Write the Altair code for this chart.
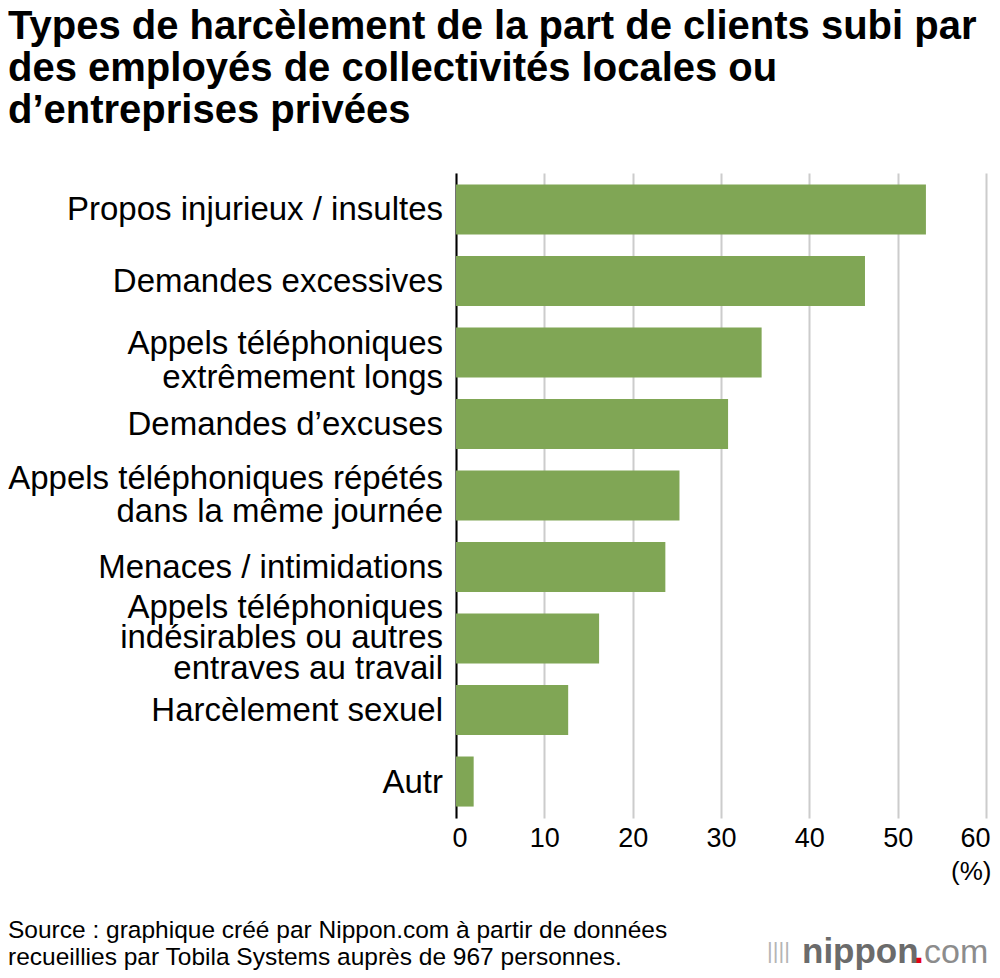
import altair as alt
import pandas as pd

# ---- data ----
categories = [
    "Propos injurieux / insultes",
    "Demandes excessives",
    "Appels téléphoniques|extrêmement longs",
    "Demandes d’excuses",
    "Appels téléphoniques répétés|dans la même journée",
    "Menaces / intimidations",
    "Appels téléphoniques|indésirables ou autres|entraves au travail",
    "Harcèlement sexuel",
    "Autr",
]
values = [53.2, 46.3, 34.6, 30.8, 25.3, 23.7, 16.2, 12.7, 2.0]
x_ticks = [0, 10, 20, 30, 40, 50, 60]

title_lines = [
    "Types de harcèlement de la part de clients subi par",
    "des employés de collectivités locales ou",
    "d’entreprises privées",
]
source_lines = [
    "Source : graphique créé par Nippon.com à partir de données",
    "recueillies par Tobila Systems auprès de 967 personnes.",
]

df = pd.DataFrame({"cat": categories, "val": values})

FONT = "Liberation Sans"
W, H = 530, 645

y_enc = alt.Y(
    "cat:N",
    sort=categories,
    scale=alt.Scale(paddingInner=0.3, paddingOuter=0.16),
    axis=alt.Axis(
        title=None,
        ticks=False,
        grid=False,
        labels=False,
        domain=True,
        domainColor="#000000",
        domainWidth=2,
    ),
)

bars = alt.Chart(df).mark_bar(color="#80a655").encode(
    x=alt.X(
        "val:Q",
        scale=alt.Scale(domain=[0, 60], nice=False),
        axis=alt.Axis(
            values=x_ticks,
            grid=True,
            gridColor="#cccccc",
            gridWidth=2,
            ticks=False,
            domain=False,
            labelFontSize=27,
            labelFont=FONT,
            labelColor="#000000",
            labelPadding=7,
            labelFlush=True,
            labelFlushOffset=4,
            title="(%)",
            titleFont=FONT,
            titleFontSize=26,
            titleFontWeight="normal",
            titleColor="#000000",
            titleX=535,
            titleY=61,
            titleAlign="right",
            titleBaseline="alphabetic",
        ),
    ),
    y=y_enc,
)


def label_layer(test, line_h, dy):
    return (
        alt.Chart(df)
        .transform_calculate(lines="split(datum.cat, '|')")
        .transform_filter(test)
        .mark_text(
            font=FONT, fontSize=33, align="right", baseline="middle",
            lineHeight=line_h, dy=dy, color="#000000",
        )
        .encode(
            y=alt.Y("cat:N", sort=categories),
            x=alt.value(-13),
            text=alt.Text("lines:N"),
        )
    )


labels1 = label_layer("length(datum.lines) == 1", 33, 1)
labels2a = label_layer(
    "length(datum.lines) == 2 && indexof(datum.cat, 'longs') >= 0", 34, -8
)
labels2b = label_layer(
    "length(datum.lines) == 2 && indexof(datum.cat, 'longs') < 0", 33, -17
)
labels3 = label_layer("length(datum.lines) == 3", 30.5, -31)

one = alt.Data(values=[{"k": 1}])

title_text = alt.Chart(one).mark_text(
    font=FONT, fontSize=40, fontWeight="bold", align="left",
    baseline="alphabetic", lineHeight=42, color="#000000",
).encode(x=alt.value(-448), y=alt.value(-134), text=alt.value(title_lines))

source_text = alt.Chart(one).mark_text(
    font=FONT, fontSize=24.5, align="left", baseline="alphabetic",
    lineHeight=27, color="#000000",
).encode(x=alt.value(-448), y=alt.value(765), text=alt.value(source_lines))

logo_icon = alt.Chart(one).mark_text(
    font=FONT, fontSize=22, align="left",
    baseline="alphabetic", color="#b5b5b5",
).encode(x=alt.value(311), y=alt.value(785), text=alt.value("||||"))

logo_a = alt.Chart(one).mark_text(
    font=FONT, fontSize=35, fontWeight="bold", align="left",
    baseline="alphabetic", color="#6b6b6b",
).encode(x=alt.value(346), y=alt.value(790), text=alt.value("nippon"))

logo_dot = alt.Chart(one).mark_text(
    font=FONT, fontSize=35, fontWeight="bold", align="left",
    baseline="alphabetic", color="#e60012",
).encode(x=alt.value(458), y=alt.value(790), text=alt.value("."))

logo_b = alt.Chart(one).mark_text(
    font=FONT, fontSize=34, align="left",
    baseline="alphabetic", color="#8c8c8c",
).encode(x=alt.value(468), y=alt.value(790), text=alt.value("com"))

chart = alt.layer(
    bars, labels1, labels2a, labels2b, labels3,
    title_text, source_text, logo_icon, logo_a, logo_dot, logo_b,
).properties(
    width=W,
    height=H,
    autosize=alt.AutoSizeParams(type="none"),
    padding={"left": 448, "top": 165, "right": 6, "bottom": 152},
).configure_view(strokeWidth=0)

chart.save("out.html", embed_options={"renderer": "svg", "actions": False})
